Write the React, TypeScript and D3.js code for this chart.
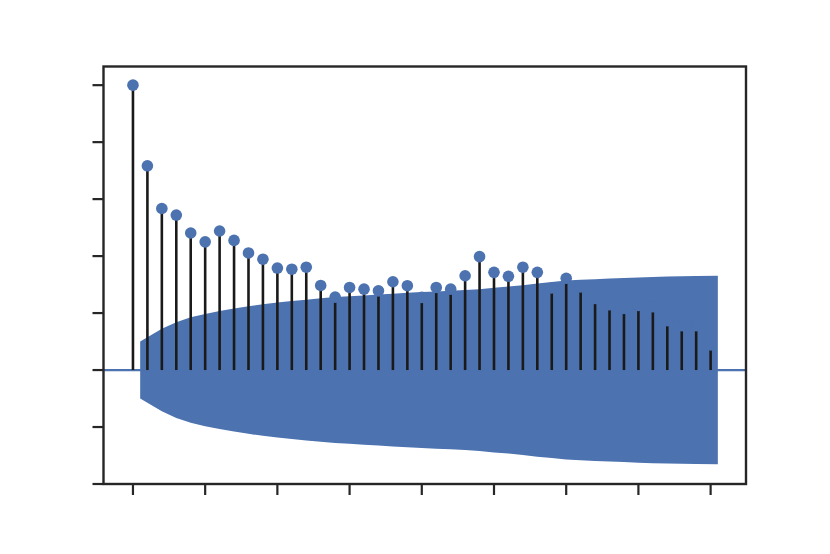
import React from "react";
import * as d3 from "d3";

const lags: number[] = [0, 1, 2, 3, 4, 5, 6, 7, 8, 9, 10, 11, 12, 13, 14, 15, 16, 17, 18, 19, 20, 21, 22, 23, 24, 25, 26, 27, 28, 29, 30, 31, 32, 33, 34, 35, 36, 37, 38, 39, 40];

const acfValues: number[] = [
  1.0, 0.717, 0.567, 0.544, 0.481, 0.45, 0.488, 0.455, 0.411, 0.389,
  0.358, 0.354, 0.361, 0.297, 0.256, 0.29, 0.284, 0.278, 0.31, 0.296,
  0.255, 0.29, 0.284, 0.331, 0.398, 0.343, 0.329, 0.361, 0.343, 0.288,
  0.322, 0.292, 0.251, 0.229, 0.216, 0.227, 0.222, 0.173, 0.156, 0.156,
  0.088,
];

// confidence band half-width for lags 1..40
const confBand: number[] = [
  0.1, 0.145, 0.168, 0.185, 0.197, 0.207, 0.216, 0.224, 0.231, 0.237,
  0.242, 0.247, 0.252, 0.256, 0.259, 0.262, 0.265, 0.268, 0.271, 0.274,
  0.276, 0.278, 0.281, 0.284, 0.289, 0.293, 0.298, 0.304, 0.309, 0.314,
  0.317, 0.319, 0.321, 0.323, 0.325, 0.327, 0.328, 0.329, 0.33, 0.331,
];

const xTicks: number[] = [0, 5, 10, 15, 20, 25, 30, 35, 40];
const yTicks: number[] = [-0.4, -0.2, 0.0, 0.2, 0.4, 0.6, 0.8, 1.0];

const W = 830;
const H = 554;
const left = 103.5;
const right = 746;
const top = 66.5;
const bottom = 484;

const BLUE = "#4C72B0";
const DARK = "#262626";

export default function App() {
  const x = d3.scaleLinear().domain([-2.04, 42.45]).range([left, right]);
  const y = d3.scaleLinear().domain([-0.4, 1.0655]).range([bottom, top]);

  const bandLags = lags.slice(1).map((l, i, arr) =>
    i === 0 ? l - 0.5 : i === arr.length - 1 ? l + 0.5 : l
  );
  const bandData = bandLags.map((l, i) => ({ l, b: confBand[i] }));
  const area = d3
    .area<{ l: number; b: number }>()
    .x((d) => x(d.l))
    .y0((d) => y(-d.b))
    .y1((d) => y(d.b));

  return (
    <svg
      width={W}
      height={H}
      style={{ position: "absolute", left: 0, top: 0, background: "#fff" }}
    >
      <rect x={0} y={0} width={W} height={H} fill="#fff" />
      <path d={area(bandData) || ""} fill={BLUE} />
      <line x1={left} x2={right} y1={y(0)} y2={y(0)} stroke={BLUE} strokeWidth={2.2} />
      {lags.map((l, i) => (
        <line
          key={"s" + l}
          x1={x(l)}
          x2={x(l)}
          y1={y(0)}
          y2={y(acfValues[i])}
          stroke="#1a1a1a"
          strokeWidth={2.6}
        />
      ))}
      {lags.map((l, i) => (
        <circle key={"m" + l} cx={x(l)} cy={y(acfValues[i])} r={5.8} fill={BLUE} />
      ))}
      <rect
        x={left}
        y={top}
        width={right - left}
        height={bottom - top}
        fill="none"
        stroke={DARK}
        strokeWidth={2.4}
      />
      {xTicks.map((t) => (
        <line
          key={"xt" + t}
          x1={x(t)}
          x2={x(t)}
          y1={bottom}
          y2={bottom + 11}
          stroke={DARK}
          strokeWidth={2.2}
        />
      ))}
      {yTicks.map((t) => (
        <line
          key={"yt" + t}
          x1={left - 11}
          x2={left}
          y1={y(t)}
          y2={y(t)}
          stroke={DARK}
          strokeWidth={2.2}
        />
      ))}
    </svg>
  );
}
